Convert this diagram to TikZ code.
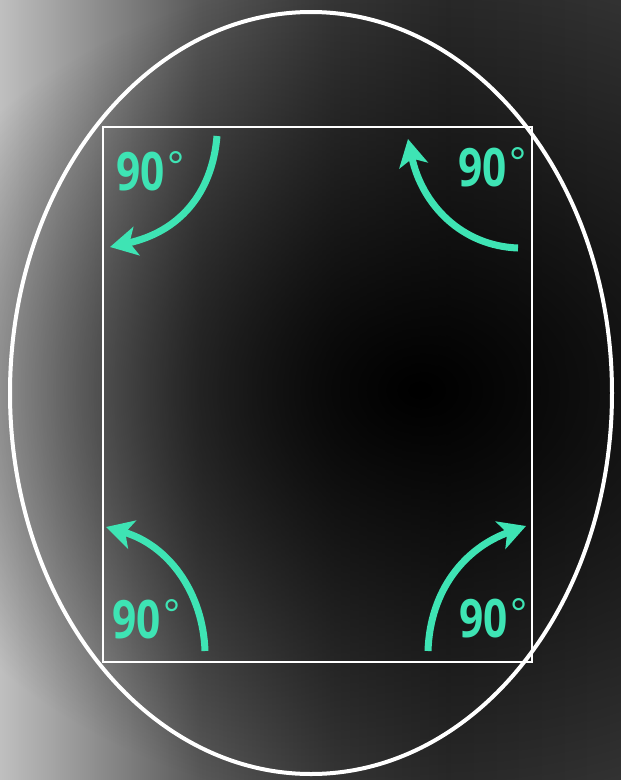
\documentclass[tikz,border=0pt]{standalone}
\usepackage{fontspec,graphicx}
\setmainfont{Open Sans}
\usetikzlibrary{arrows.meta,fadings}

\definecolor{mint}{RGB}{62,228,180}
\pgfdeclarehorizontalshading{backdrop}{100bp}{%
  color(0bp)=(black!25); color(25bp)=(black!25); color(29bp)=(black!35);
  color(33bp)=(black!45); color(41bp)=(black!65); color(52bp)=(black!78);
  color(61bp)=(black!83); color(75bp)=(black!80); color(100bp)=(black!80)}
\tikzfading[name=glow, inner color=transparent!0, outer color=transparent!100]

\newcommand\ninety{\scalebox{0.8}[1]{90}\kern3pt\raisebox{10pt}{\mdseries\fontsize{40}{40}\selectfont °}}

\begin{document}
\begin{tikzpicture}[x=1pt,y=-1pt,
  rim/.style={draw=white, line width=4pt},
  frame/.style={draw=white, line width=1.8pt},
  turn/.style={draw=mint, line width=7pt,
    -{Stealth[length=27pt,width=29pt,inset=7pt]}},
  deg/.style={text=mint, inner sep=0pt, anchor=base west,
    font=\fontseries{sb}\fontsize{53}{53}\selectfont}]

  \useasboundingbox (0,0) rectangle (621,780);
  % backdrop
  \begin{scope}
    \clip (0,0) rectangle (621,780);
    \shade[shading=backdrop] (0,0) rectangle (621,780);
    \fill[black, path fading=glow] (-140,-30) rectangle (980,810);
  \end{scope}

  % outline
  \draw[rim] (311,393) ellipse [x radius=301, y radius=381];
  \draw[frame] (103,127) rectangle (532,662);

  % arrow ends
  \coordinate (tl0) at (217,136);
  \coordinate (tl1) at (110,247);
  \coordinate (tr0) at (518,248);
  \coordinate (tr1) at (408,139);
  \coordinate (bl0) at (205,651);
  \coordinate (bl1) at (106,527);
  \coordinate (br0) at (428,651);
  \coordinate (br1) at (526,526);

  \draw[turn] (tl0) .. controls (212,195) and (178,232) .. (tl1);
  \draw[turn] (tr0) .. controls (462,246) and (422,205) .. (tr1);
  \draw[turn] (bl0) .. controls (203,592) and (168,545) .. (bl1);
  \draw[turn] (br0) .. controls (430,590) and (465,548) .. (br1);

  % labels
  \node[deg] (tl) at (116,190) {\ninety};
  \node[deg] (tr) at (458,186) {\ninety};
  \node[deg] (bl) at (112,638) {\ninety};
  \node[deg] (br) at (459,637) {\ninety};
\end{tikzpicture}
\end{document}
